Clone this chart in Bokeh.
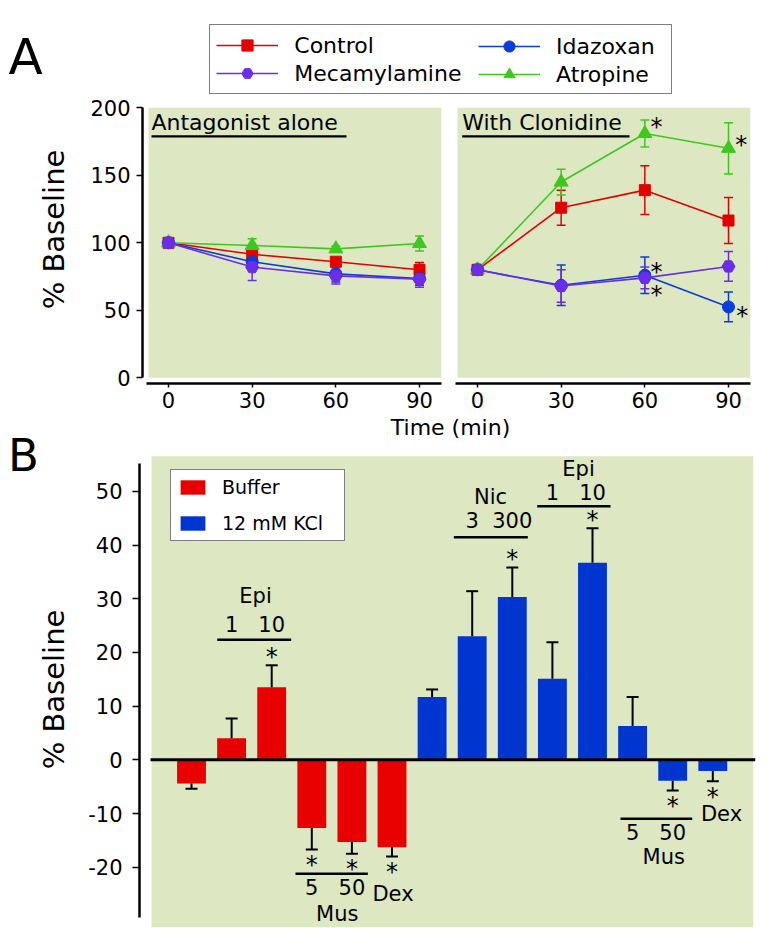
import math
from bokeh.plotting import figure
from bokeh.models import (ColumnDataSource, Range1d, FixedTicker, Label, Legend,
                          LegendItem, BoxAnnotation, Whisker, TeeHead)
from bokeh.layouts import column, row
from bokeh.core.properties import value
from bokeh.embed import file_html
from bokeh.resources import INLINE

# ======================= DATA =======================
# Panel A: time course (% baseline)
times = [0, 30, 60, 90]
series_names = ["Control", "Idazoxan", "Mecamylamine", "Atropine"]

alone_control = [100, 91.5, 86, 80]
alone_control_err = [0, 4, 3, 5.5]
alone_idazoxan = [100, 86, 77, 73.5]
alone_idazoxan_err = [0, 4, 6, 5]
alone_mecamylamine = [100, 82, 75.5, 73]
alone_mecamylamine_err = [0, 10, 6, 6]
alone_atropine = [100, 98, 95.5, 99.5]
alone_atropine_err = [0, 5, 2, 5.5]

clon_control = [80, 126, 139, 116.5]
clon_control_err = [0, 13, 18, 17]
clon_idazoxan = [80, 68.5, 76, 52.5]
clon_idazoxan_err = [0, 15, 13.5, 11]
clon_mecamylamine = [80, 68, 74, 82.5]
clon_mecamylamine_err = [0, 12, 8, 11]
clon_atropine = [80, 145, 181, 170]
clon_atropine_err = [0, 9.5, 10, 19]

clon_sig = [("Atropine", 60), ("Atropine", 90), ("Idazoxan", 60),
            ("Mecamylamine", 60), ("Idazoxan", 90)]

# Panel B: bars (% baseline)
b_group = ["Buffer"] * 6 + ["12 mM KCl"] * 8
b_values = [-4.4, 4.0, 13.5, -12.7, -15.3, -16.3, 11.7, 23.0, 30.3, 15.1, 36.7, 6.3, -3.9, -2.1]
b_errors = [1.0, 3.7, 4.1, 4.0, 2.2, 1.7, 1.4, 8.4, 5.5, 6.8, 6.4, 5.4, 1.8, 1.9]
b_sig = [False, False, True, True, True, True, False, False, True, False, True, False, True, True]
b_ticks = [-20, -10, 0, 10, 20, 30, 40, 50]
b_drug_groups = [("Epi", ["1", "10"], [2, 3]), ("Nic", ["3", "300"], [8, 9]),
                 ("Epi", ["1", "10"], [10, 11]), ("Mus", ["5", "50"], [4, 5]),
                 ("Mus", ["5", "50"], [12, 13])]
b_dex_bars = [6, 14]

# ======================= STYLE / LAYOUT =======================
FONT = "DejaVu Sans"
RED = "#e50000"
BLUE = "#0b3bd9"
PURPLE = "#6b2de8"
GREEN = "#3ec81e"
BAR_RED = "#e80000"
BAR_BLUE = "#0036cf"
BG = "#dde7c2"
colors = {"Control": RED, "Idazoxan": BLUE, "Mecamylamine": PURPLE, "Atropine": GREEN}
markers = {"Control": "square", "Idazoxan": "circle", "Mecamylamine": "hex", "Atropine": "triangle"}
msizes = {"Control": 11, "Idazoxan": 12, "Mecamylamine": 13, "Atropine": 14}
SHIFT = 0.41     # baseline correction (em)
AST = 24         # asterisk font size

TOTAL_W = 767
LEFT_W = 75
HEAD_H = 95
ROW_A_TOP, ROW_A_BOT = HEAD_H, 416
ROW_B_TOP, ROW_B_BOT = 416, 931
SPLIT_X = 448

# ---- panel A scales (page pixels) ----
A_X0L, A_X0R, A_SX = 168.0, 477.0, 2.789   # page x of t=0 in each panel, px per minute
A_Y0, A_SY = 377.3, 1.35                   # page y of 0 %, px per %
A_FT, A_FB = ROW_A_TOP, 383


def axl(px):
    return (px - A_X0L) / A_SX


def axr(px):
    return (px - A_X0R) / A_SX


def ay(py):
    return (A_Y0 - py) / A_SY


def ay_px(y):
    return A_Y0 - y * A_SY


# ---- panel B scales ----
B_X1, B_SX = 191.0, 40.1
B_Y0, B_SY = 759.3, 5.37
B_FL, B_FR, B_FT, B_FB = 139, 755, ROW_B_TOP, 927


def bx(px):
    return 1 + (px - B_X1) / B_SX


def by(py):
    return (B_Y0 - py) / B_SY


def b_py(y):
    return B_Y0 - y * B_SY


def ident(v):
    return v


def style_fig(p):
    p.background_fill_color = "white"
    p.border_fill_color = "white"
    p.outline_line_color = None
    p.grid.visible = False


def lab(p, fx, fy, px, py, text, fs, align="left", angle=0.0):
    if angle == 0:
        x, y = fx(px), fy(py - SHIFT * fs)
    else:
        x, y = fx(px - SHIFT * fs), fy(py)
    p.add_layout(Label(x=x, y=y, text=text, text_font=FONT, text_font_size=f"{fs}px",
                       text_align=align, text_baseline="alphabetic", angle=angle,
                       text_color="black"))


def hbar(p, x0, x1, y0, y1):
    p.add_layout(BoxAnnotation(left=x0, right=x1, bottom=y0, top=y1, fill_color="black",
                               fill_alpha=1, line_color=None, level="annotation"))


def style_axis(a, tick_out, standoff):
    a.axis_line_width = 2.5
    a.axis_line_color = "black"
    a.major_tick_line_color = "black"
    a.major_tick_line_width = 1.5
    a.major_tick_in = 0
    a.major_tick_out = tick_out
    a.minor_tick_line_color = None
    a.major_label_text_font = FONT
    a.major_label_text_font_size = "21px"
    a.major_label_text_color = "black"
    a.major_label_standoff = standoff


def strip(top, bot, f_top, f_bot):
    s = figure(width=LEFT_W, height=bot - top, x_range=Range1d(0, LEFT_W),
               y_range=Range1d(f_bot, f_top), x_axis_type=None, y_axis_type=None,
               min_border_left=0, min_border_right=0, min_border_top=f_top - top,
               min_border_bottom=bot - f_bot, output_backend="svg", toolbar_location=None)
    style_fig(s)
    return s


# ======================= HEADER (panel letter + legend) =======================
H = figure(width=TOTAL_W, height=HEAD_H, x_range=Range1d(0, TOTAL_W),
           y_range=Range1d(HEAD_H, 0), x_axis_type=None, y_axis_type=None,
           min_border=0, output_backend="svg", toolbar_location=None)
style_fig(H)
lab(H, ident, ident, 8, 77, "A", 50)
key_refs = {}
for name in series_names:
    # key-only renderers: one undefined (NaN) point, so nothing is drawn in the header
    ksrc = ColumnDataSource(dict(x=[float("nan")], y=[float("nan")]))
    c = colors[name]
    kl = H.line("x", "y", source=ksrc, line_color=c, line_width=1.6)
    ks = H.scatter("x", "y", source=ksrc, marker=markers[name], size=msizes[name],
                   fill_color=c, line_color=c)
    key_refs[name] = [kl, ks]

leg_kw = dict(padding=6, spacing=0, glyph_width=62, glyph_height=28, label_standoff=16,
              label_text_font=FONT, label_text_font_size="22px", label_text_color="black",
              margin=0, border_line_color="black", border_line_width=1.5)
leg1 = Legend(items=[LegendItem(label="Control", renderers=key_refs["Control"]),
                     LegendItem(label="Mecamylamine", renderers=key_refs["Mecamylamine"])],
              location=(209.3, HEAD_H - 94.3), label_width=371,
              background_fill_color="white", background_fill_alpha=1, **leg_kw)
leg2 = Legend(items=[LegendItem(label="Idazoxan", renderers=key_refs["Idazoxan"]),
                     LegendItem(label="Atropine", renderers=key_refs["Atropine"])],
              location=(472, HEAD_H - 94.3), border_line_alpha=0,
              background_fill_alpha=0, **leg_kw)
H.add_layout(leg1)
H.add_layout(leg2)

# ======================= PANEL A =======================
LA = strip(ROW_A_TOP, ROW_A_BOT, A_FT, A_FB)
lab(LA, ident, ident, 65, 229, "% Baseline", 29, align="center", angle=math.pi / 2)

panelA = [
    ("Antagonist alone", axl, 142, SPLIT_X, 441, 148,
     {"Control": (alone_control, alone_control_err),
      "Idazoxan": (alone_idazoxan, alone_idazoxan_err),
      "Mecamylamine": (alone_mecamylamine, alone_mecamylamine_err),
      "Atropine": (alone_atropine, alone_atropine_err)}),
    ("With Clonidine", axr, 455, TOTAL_W, 750, 457,
     {"Control": (clon_control, clon_control_err),
      "Idazoxan": (clon_idazoxan, clon_idazoxan_err),
      "Mecamylamine": (clon_mecamylamine, clon_mecamylamine_err),
      "Atropine": (clon_atropine, clon_atropine_err)}),
]
figsA = []
x_start = LEFT_W
for title, fx, f_left, x_end, f_right, bg_left, sdict in panelA:
    first = fx is axl
    p = figure(width=x_end - x_start, height=ROW_A_BOT - ROW_A_TOP,
               x_range=Range1d(fx(f_left), fx(f_right)), y_range=Range1d(ay(A_FB), ay(A_FT)),
               min_border_left=f_left - x_start, min_border_right=x_end - f_right,
               min_border_top=0, min_border_bottom=ROW_A_BOT - A_FB,
               y_axis_type="linear" if first else None,
               output_backend="svg", toolbar_location=None)
    style_fig(p)
    p.add_layout(BoxAnnotation(left=fx(bg_left), right=fx(f_right), bottom=0, top=200,
                               fill_color=BG, fill_alpha=1, line_color=None, level="image"))
    for name in ["Control", "Atropine", "Idazoxan", "Mecamylamine"]:
        vals, errs = sdict[name]
        src = ColumnDataSource(dict(x=times, y=vals,
                                    upper=[v + e for v, e in zip(vals, errs)],
                                    lower=[v - e for v, e in zip(vals, errs)]))
        c = colors[name]
        p.add_layout(Whisker(source=src, base="x", upper="upper", lower="lower",
                             line_color=c, line_width=1.5,
                             upper_head=TeeHead(size=9, line_color=c, line_width=1.5),
                             lower_head=TeeHead(size=9, line_color=c, line_width=1.5)))
        p.line("x", "y", source=src, line_color=c, line_width=1.6)
        p.scatter("x", "y", source=src, marker=markers[name], size=msizes[name],
                  fill_color=c, line_color=c)
    p.xaxis.ticker = FixedTicker(ticks=times)
    style_axis(p.xaxis[0], 4, 4)
    if first:
        p.xaxis.bounds = (fx(146), fx(f_right))
        p.yaxis.ticker = FixedTicker(ticks=[0, 50, 100, 150, 200])
        p.yaxis.bounds = (0, 200)
        style_axis(p.yaxis[0], 6, 6)
    # underlined panel title
    tx = f_left + 9 if first else f_left + 6.7
    tw = 195 if first else 167.3
    lab(p, fx, ay, tx, 131.5, title, 22)
    hbar(p, fx(tx), fx(tx + tw), ay(137), ay(134.8))
    figsA.append(p)
    x_start = x_end

pAL, pAR = figsA

# significance asterisks (with clonidine)
ast_offsets = {("Atropine", 60): (11.7, -10), ("Atropine", 90): (12.7, -6.6),
               ("Idazoxan", 60): (11.7, 16.7), ("Mecamylamine", 60): (11.7, -9.4),
               ("Idazoxan", 90): (13.7, 6)}
clon_lookup = {"Control": clon_control, "Idazoxan": clon_idazoxan,
               "Mecamylamine": clon_mecamylamine, "Atropine": clon_atropine}
for name, t in clon_sig:
    v = clon_lookup[name][times.index(t)]
    dx, dy = ast_offsets[(name, t)]
    cx = A_X0R + t * A_SX + dx
    cy = ay_px(v) + dy
    lab(pAR, axr, ay, cx, cy + 0.55 * AST, "*", AST, align="center")

# ======================= PANEL B =======================
LB = strip(ROW_B_TOP, ROW_B_BOT, B_FT, B_FB)
lab(LB, ident, ident, 7.6, 473, "B", 45)
lab(LB, ident, ident, 65, 689, "% Baseline", 29, align="center", angle=math.pi / 2)

pB = figure(width=TOTAL_W - LEFT_W, height=ROW_B_BOT - ROW_B_TOP, x_axis_type=None,
            x_range=Range1d(bx(B_FL), bx(B_FR)), y_range=Range1d(by(B_FB), by(B_FT)),
            min_border_left=B_FL - LEFT_W, min_border_right=TOTAL_W - B_FR,
            min_border_top=0, min_border_bottom=ROW_B_BOT - B_FB,
            output_backend="svg", toolbar_location=None)
style_fig(pB)
pB.add_layout(BoxAnnotation(left=bx(151), right=bx(752.7), top=by(455.7), fill_color=BG,
                            fill_alpha=1, line_color=None, level="image"))

b_x = list(range(1, len(b_values) + 1))
renderers_b = {}
for g, col in [("Buffer", BAR_RED), ("12 mM KCl", BAR_BLUE)]:
    idx = [i for i, gg in enumerate(b_group) if gg == g]
    src = ColumnDataSource(dict(x=[b_x[i] for i in idx], top=[b_values[i] for i in idx]))
    renderers_b[g] = pB.vbar(x="x", top="top", bottom=0, width=0.72, source=src,
                             fill_color=col, line_color=None)

pos = [i for i, v in enumerate(b_values) if v >= 0]
neg = [i for i, v in enumerate(b_values) if v < 0]
src_pos = ColumnDataSource(dict(x=[b_x[i] for i in pos], lower=[b_values[i] for i in pos],
                                upper=[b_values[i] + b_errors[i] for i in pos]))
src_neg = ColumnDataSource(dict(x=[b_x[i] for i in neg], upper=[b_values[i] for i in neg],
                                lower=[b_values[i] - b_errors[i] for i in neg]))
pB.add_layout(Whisker(source=src_pos, base="x", upper="upper", lower="lower",
                      line_color="black", line_width=2, level="annotation",
                      upper_head=TeeHead(size=12, line_color="black", line_width=2),
                      lower_head=None))
pB.add_layout(Whisker(source=src_neg, base="x", upper="upper", lower="lower",
                      line_color="black", line_width=2, level="annotation",
                      lower_head=TeeHead(size=12, line_color="black", line_width=2),
                      upper_head=None))

# zero line
pB.add_layout(BoxAnnotation(left=bx(150), right=bx(755), bottom=by(760.8), top=by(757.8),
                            fill_color="black", fill_alpha=1, line_color=None, level="annotation"))

# asterisks from significance flags
ast_x, ast_y = [], []
for i, (v, e, s) in enumerate(zip(b_values, b_errors, b_sig)):
    if not s:
        continue
    end = v + e if v >= 0 else v - e
    cy = b_py(end) + (-12 if v >= 0 else 12)
    ast_x.append(b_x[i])
    ast_y.append(by(cy + 0.55 * AST - SHIFT * AST))
pB.text(x="x", y="y", text="t",
        source=ColumnDataSource(dict(x=ast_x, y=ast_y, t=["*"] * len(ast_x))),
        text_font=value(FONT), text_font_size=f"{AST}px", text_align="center",
        text_baseline="alphabetic", text_color="black")

# drug group annotations (positions in page px)
group_layout = [
    dict(line=(216.7, 290.7, 639.3), dose_base=632.3, name_x=255, name_base=604.3),
    dict(line=(453.3, 527.3, 536.7), dose_base=528.3, name_x=490, name_base=505),
    dict(line=(536.7, 610.0, 505.7), dose_base=500.0, name_x=578, name_base=476.7),
    dict(line=(295.0, 367.3, 873.3), dose_base=895.0, name_x=336.7, name_base=921.7),
    dict(line=(620.0, 691.7, 818.3), dose_base=840.0, name_x=663.3, name_base=865.0),
]
for (drug, doses, bars), L in zip(b_drug_groups, group_layout):
    x0, x1, yl = L["line"]
    hbar(pB, bx(x0), bx(x1), by(yl + 1.3), by(yl - 1.3))
    for d, bidx in zip(doses, bars):
        lab(pB, bx, by, B_X1 + (bidx - 1) * B_SX, L["dose_base"], d, 21, align="center")
    lab(pB, bx, by, L["name_x"], L["name_base"], drug, 21, align="center")
dex_layout = [(392.5, 901.7), (721.0, 821.7)]
for bidx, (dxp, dyp) in zip(b_dex_bars, dex_layout):
    lab(pB, bx, by, dxp, dyp, "Dex", 21, align="center")

# x-axis title of panel A (sits in the top strip of this plot's frame)
lab(pB, bx, by, 450, 436.5, "Time (min)", 22, align="center")

# axis
pB.yaxis.ticker = FixedTicker(ticks=b_ticks)
pB.yaxis.major_label_overrides = {t: str(t) for t in b_ticks}
pB.yaxis.bounds = (by(917), by(463))
style_axis(pB.yaxis[0], 7, 10)

legB = Legend(items=[LegendItem(label="Buffer", renderers=[renderers_b["Buffer"]]),
                     LegendItem(label="12 mM KCl", renderers=[renderers_b["12 mM KCl"]])],
              location=(170 - B_FL, B_FB - 541),
              padding=6, spacing=14, glyph_width=31, glyph_height=18, label_standoff=14,
              label_width=116, label_text_font=FONT, label_text_font_size="19px",
              label_text_color="black",
              border_line_color="black", border_line_width=1.5,
              background_fill_color="white", background_fill_alpha=1, margin=0)
pB.add_layout(legB)

layout = column(H, row(LA, pAL, pAR, spacing=0), row(LB, pB, spacing=0), spacing=0)
open("out.html", "w").write(file_html(layout, INLINE))
